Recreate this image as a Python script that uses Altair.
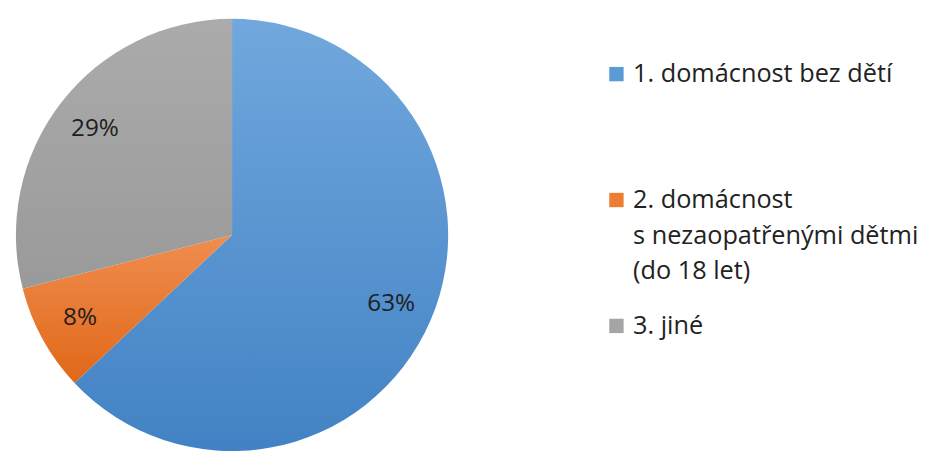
import altair as alt
import pandas as pd

legend_lines = ["1. domácnost bez dětí",
                "2. domácnost|s nezaopatřenými dětmi|(do 18 let)",
                "3. jiné"]
shares = [63, 8, 29]
labels = ["63%", "8%", "29%"]

solid = ["#5B9BD5", "#ED7D31", "#A5A5A5"]
grad_top = ["#71A8DD", "#F08D4F", "#ABABAB"]
grad_bot = ["#4282C4", "#E06818", "#9A9A9A"]

df = pd.DataFrame({"cat": legend_lines, "share": shares, "label": labels, "order": [0, 1, 2]})

conds = []
for cat, t, b in zip(legend_lines, grad_top, grad_bot):
    conds.append({
        "test": f"datum.cat === {cat!r}",
        "value": {"gradient": "linear", "x1": 0, "y1": 0, "x2": 0, "y2": 1,
                  "stops": [{"offset": 0, "color": t}, {"offset": 1, "color": b}]},
    })

FONT = "Open Sans"

base = alt.Chart(df).encode(
    theta=alt.Theta("share:Q", stack=True),
    order=alt.Order("order:Q"),
)

pie = base.mark_arc(outerRadius=218, x=226, y=227).encode(
    color=alt.Color(
        "cat:N",
        scale=alt.Scale(domain=legend_lines, range=solid),
        legend=alt.Legend(
            title=None, orient="none", legendX=601, legendY=52,
            symbolType="square", symbolSize=210, symbolStrokeWidth=0,
            labelFont=FONT, labelFontSize=25.5, labelColor="#222222",
            labelExpr="indexof(datum.label, '|') >= 0 ? split(datum.label, '|') : [datum.label, '', '']",
            labelLimit=400,
            labelOffset=4, rowPadding=28, labelBaseline="middle",
        ),
        condition=conds,
    )
)

text = base.mark_text(radius=175, x=226, y=227, font=FONT, fontSize=24.5,
                      color="#1e1e1e").encode(text="label:N")

chart = alt.layer(pie, text).properties(
    width=925, height=444, padding=0,
    autosize=alt.AutoSizeParams(type="none"),
).configure_view(stroke=None).configure(
    style={"guide-label": {"lineHeight": 36}}
)

chart.save("out.html", embed_options={"renderer": "svg", "actions": False})
